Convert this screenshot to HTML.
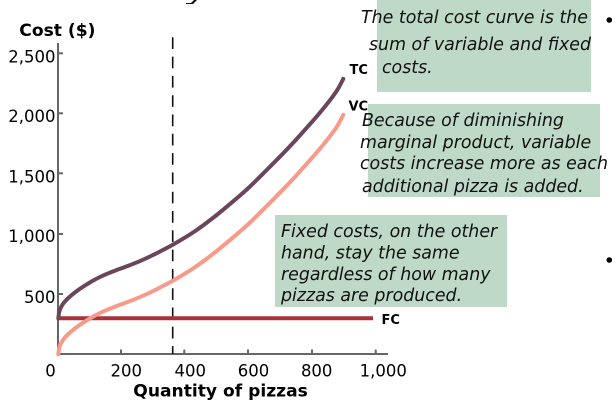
<!DOCTYPE html>
<html><head><meta charset="utf-8">
<style>
html,body{margin:0;padding:0;background:#fff;}
svg{display:block;}
.t{font-family:"DejaVu Sans","Liberation Sans",sans-serif;}
</style></head>
<body>
<svg width="616" height="409" viewBox="0 0 616 409" xmlns="http://www.w3.org/2000/svg">
<rect width="616" height="409" fill="#fff"/>
<!-- title fragment -->
<path d="M186 3 L191 3 L194 0 L197 0 L193 4 L186 4 Z" fill="#111"/>

<!-- text boxes -->
<rect x="377" y="0" width="214" height="92" fill="#bfd9c8"/>
<rect x="368" y="104" width="232" height="93" fill="#bfd9c8"/>
<rect x="275" y="215" width="232" height="92" fill="#bfd9c8"/>

<g class="t" font-style="italic" font-size="17.4" fill="#111">
<text x="361" y="23">The total cost curve is the</text>
<text x="369" y="50">sum of variable and fixed</text>
<text x="382" y="73">costs.</text>
<text x="362" y="126">Because of diminishing</text>
<text x="360" y="148">marginal product, variable</text>
<text x="360" y="169">costs increase more as each</text>
<text x="362" y="192">additional pizza is added.</text>
<text x="281" y="237">Fixed costs, on the other</text>
<text x="281" y="258.5">hand, stay the same</text>
<text x="281" y="280">regardless of how many</text>
<text x="281" y="301">pizzas are produced.</text>
</g>

<!-- bullets -->
<circle cx="609.3" cy="20" r="2.8" fill="#000"/>
<circle cx="609.3" cy="260" r="2.8" fill="#000"/>

<!-- axes -->
<g stroke="#666" stroke-width="2" fill="none">
<line x1="58" y1="43" x2="58" y2="355"/>
<line x1="57" y1="354" x2="388" y2="354"/>
<line x1="58" y1="53.3" x2="63" y2="53.3"/>
<line x1="58" y1="113.3" x2="63" y2="113.3"/>
<line x1="58" y1="173.3" x2="63" y2="173.3"/>
<line x1="58" y1="234" x2="63" y2="234"/>
<line x1="58" y1="294" x2="63" y2="294"/>
<line x1="121" y1="349.5" x2="121" y2="354"/>
<line x1="184.3" y1="349.5" x2="184.3" y2="354"/>
<line x1="248" y1="349.5" x2="248" y2="354"/>
<line x1="312" y1="349.5" x2="312" y2="354"/>
<line x1="375.7" y1="349.5" x2="375.7" y2="354"/>
</g>

<!-- dashed line -->
<line x1="172.7" y1="37.3" x2="172.7" y2="354" stroke="#111" stroke-width="1.6" stroke-dasharray="11.7 7.6"/>

<!-- FC -->
<line x1="58" y1="318.3" x2="373" y2="318.3" stroke="#a8323a" stroke-width="4"/>

<!-- VC -->
<g transform="translate(0,36)">
<polyline class="smooth" fill="none" stroke="#f89a8a" stroke-width="4" stroke-linejoin="round" stroke-linecap="round"
points="58.3,318.3 59.3,311.5 61.2,306.8 63.8,302.8 67,299.3 71,295.6 76,291.6 83.3,286.6 91.5,281.5 100,277 108.3,273.3 116.7,270 125,267 133.3,263.8 141.7,260.3 150,256.5 161,251 172.3,245 183.3,238.6 194.3,231.6 205.5,223.6 216.7,215 225,208.2 233.3,201.2 241.7,194 250,186.5 258.3,178.4 266.7,170 275,161.7 283.3,153.2 291.7,144.4 300,135.3 308.3,126 316.7,116.5 325,106.5 333.3,95.8 338.5,88 343.3,78.8"/>
</g>
<!-- TC -->
<polyline class="smooth" fill="none" stroke="#6b4559" stroke-width="4" stroke-linejoin="round" stroke-linecap="round"
points="58.3,318.3 59.3,311.5 61.2,306.8 63.8,302.8 67,299.3 71,295.6 76,291.6 83.3,286.6 91.5,281.5 100,277 108.3,273.3 116.7,270 125,267 133.3,263.8 141.7,260.3 150,256.5 161,251 172.3,245 183.3,238.6 194.3,231.6 205.5,223.6 216.7,215 225,208.2 233.3,201.2 241.7,194 250,186.5 258.3,178.4 266.7,170 275,161.7 283.3,153.2 291.7,144.4 300,135.3 308.3,126 316.7,116.5 325,106.5 333.3,95.8 338.5,88 343.3,78.8"/>

<!-- curve labels -->
<g class="t" font-weight="bold" font-size="13" fill="#000">
<text x="349.5" y="74">TC</text>
<text x="348.5" y="110.5">VC</text>
<text x="381.5" y="324">FC</text>
</g>

<!-- axis titles -->
<g class="t" font-weight="bold" font-size="17.1" fill="#000">
<text x="19.3" y="36">Cost ($)</text>
<text x="133.3" y="396.5">Quantity of pizzas</text>
</g>

<!-- tick labels -->
<g class="t" font-size="16.5" fill="#000">
<g text-anchor="end">
<text x="55.5" y="62.5">2,500</text>
<text x="55.5" y="122">2,000</text>
<text x="55.5" y="182.5">1,500</text>
<text x="55.5" y="242">1,000</text>
<text x="55.5" y="303">500</text>
</g>
<g text-anchor="middle">
<text x="50.5" y="376.5">0</text>
<text x="126.3" y="376.5">200</text>
<text x="190.3" y="376.5">400</text>
<text x="253.5" y="376.5">600</text>
<text x="316.7" y="376.5">800</text>
<text x="383.3" y="376.5">1,000</text>
</g>
</g>
</svg>
<script>
(function(){
  var NS="http://www.w3.org/2000/svg";
  var pls=document.querySelectorAll("polyline.smooth");
  for(var k=0;k<pls.length;k++){
    var pl=pls[k];
    var raw=pl.getAttribute("points").trim().split(/\s+/).map(function(s){var a=s.split(",");return [parseFloat(a[0]),parseFloat(a[1])];});
    var d="M"+raw[0][0]+","+raw[0][1];
    for(var i=0;i<raw.length-1;i++){
      var p0=raw[i>0?i-1:0],p1=raw[i],p2=raw[i+1],p3=raw[i+2<raw.length?i+2:raw.length-1];
      var c1x=p1[0]+(p2[0]-p0[0])/6,c1y=p1[1]+(p2[1]-p0[1])/6;
      var c2x=p2[0]-(p3[0]-p1[0])/6,c2y=p2[1]-(p3[1]-p1[1])/6;
      d+=" C"+c1x.toFixed(2)+","+c1y.toFixed(2)+" "+c2x.toFixed(2)+","+c2y.toFixed(2)+" "+p2[0]+","+p2[1];
    }
    var path=document.createElementNS(NS,"path");
    path.setAttribute("d",d);
    ["fill","stroke","stroke-width","stroke-linejoin","stroke-linecap"].forEach(function(a){path.setAttribute(a,pl.getAttribute(a));});
    pl.parentNode.replaceChild(path,pl);
  }
})();
</script>
</body></html>
